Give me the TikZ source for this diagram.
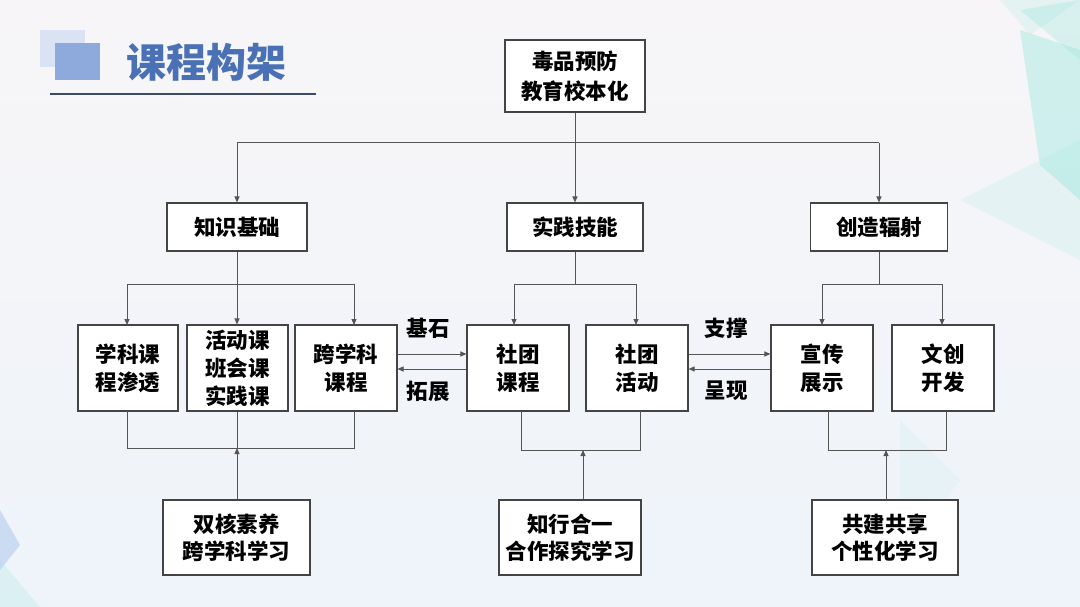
\documentclass[tikz,border=0pt]{standalone}
\usepackage{fontspec}
\setmainfont{Noto Sans CJK SC}
\usetikzlibrary{arrows.meta}
\definecolor{bgA}{HTML}{F7F5F7}
\definecolor{bgB}{HTML}{EEF4FA}
\definecolor{cyanA}{HTML}{9FE8E0}
\definecolor{blueA}{HTML}{A9C3EC}
\definecolor{titleblue}{HTML}{4A70B6}
\definecolor{sqdark}{HTML}{8EA9DB}
\definecolor{sqlight}{HTML}{D9E3F3}
\definecolor{rulec}{HTML}{3D4A68}
\definecolor{linec}{HTML}{555555}
\definecolor{boxc}{HTML}{444444}
\tikzset{
  box/.style={draw=boxc, line width=1.1pt, fill=white, align=center, inner sep=0pt,
    font=\bfseries\fontsize{21.5}{28}\selectfont},
  conn/.style={draw=linec, line width=1pt},
  arr/.style={conn, -{Triangle[length=6pt,width=5pt]}},
  lab/.style={font=\bfseries\fontsize{21.5}{24}\selectfont, inner sep=0pt},
}
\begin{document}
\begin{tikzpicture}[x=1pt,y=-1pt]
\useasboundingbox (0,0) rectangle (1080,607);
% background
\shade[top color=bgA, bottom color=bgB] (0,0) rectangle (1080,607);
\fill[cyanA, opacity=0.35] (1080,0) -- (1080,60) -- (1020,10) -- cycle;
\fill[cyanA, opacity=0.45] (1020,30) -- (1080,50) -- (1080,200) -- (1040,165) -- cycle;
\fill[cyanA, opacity=0.18] (960,200) -- (1080,140) -- (1080,260) -- cycle;
\fill[cyanA, opacity=0.2] (1000,0) -- (1080,0) -- (1030,35) -- cycle;
\fill[cyanA, opacity=0.12] (900,420) -- (960,480) -- (900,560) -- cycle;
\fill[blueA, opacity=0.5] (0,510) -- (20,545) -- (0,570) -- cycle;
\fill[cyanA, opacity=0.25] (0,560) -- (40,607) -- (0,607) -- cycle;
% title
\fill[sqlight] (40,30) rectangle (85,67);
\fill[sqdark] (55,43) rectangle (100,80);
\node[anchor=west, text=titleblue, font=\bfseries\fontsize{40}{44}\selectfont, inner sep=0pt] (title) at (126,62) {课程构架};
\draw[rulec, line width=2.2pt] (50,94) -- (316,94);
% level 1
\node[box, minimum width=140, minimum height=72, font=\bfseries\fontsize{21.5}{30}\selectfont] (top) at (575,76) {毒品预防\\教育校本化};
% level 2
\node[box, minimum width=140, minimum height=48] (k) at (237,227) {知识基础};
\node[box, minimum width=136, minimum height=48] (s) at (575,227) {实践技能};
\node[box, minimum width=137, minimum height=48] (c) at (879,227) {创造辐射};
% level 3
\node[box, minimum width=100, minimum height=86] (k1) at (128,368) {学科课\\程渗透};
\node[box, minimum width=101, minimum height=86] (k2) at (237.5,368) {活动课\\班会课\\实践课};
\node[box, minimum width=102, minimum height=86] (k3) at (346,368) {跨学科\\课程};
\node[box, minimum width=102, minimum height=86] (s1) at (518,368) {社团\\课程};
\node[box, minimum width=102, minimum height=86] (s2) at (637,368) {社团\\活动};
\node[box, minimum width=102, minimum height=86] (c1) at (822,368) {宣传\\展示};
\node[box, minimum width=102, minimum height=86] (c2) at (943,368) {文创\\开发};
% bottom
\node[box, minimum width=147, minimum height=75, font=\bfseries\fontsize{21.5}{27}\selectfont] (kb) at (236.5,537.5) {双核素养\\跨学科学习};
\node[box, minimum width=142, minimum height=75, font=\bfseries\fontsize{21.5}{27}\selectfont] (sb) at (570,537.5) {知行合一\\合作探究学习};
\node[box, minimum width=146, minimum height=75, font=\bfseries\fontsize{21.5}{27}\selectfont] (cb) at (885,537.5) {共建共享\\个性化学习};
% coordinates
\coordinate (j0) at (575,143);
\coordinate (jk) at (237,284);
\coordinate (js) at (575,284);
\coordinate (jc) at (879,284);
\coordinate (bk) at (237,448);
\coordinate (bs) at (583,450);
\coordinate (bc) at (886,450);
% top connectors
\draw[conn] (top.south) -- (j0);
\draw[conn] (j0 -| k.north) -- (j0 -| c.north);
\draw[arr] (j0 -| k.north) -- (k.north);
\draw[arr] (j0) -- (s.north);
\draw[arr] (j0 -| c.north) -- (c.north);
% knowledge branch
\draw[conn] (k.south) -- (jk);
\draw[conn] (127,284) -- (354,284);
\draw[arr] (127,284) -- (127,325);
\draw[arr] (jk) -- (k2.north -| jk);
\draw[arr] (354,284) -- (354,325);
% practice branch
\draw[conn] (s.south) -- (js);
\draw[conn] (514,284) -- (636,284);
\draw[arr] (514,284) -- (514,325);
\draw[arr] (636,284) -- (636,325);
% creative branch
\draw[conn] (c.south) -- (jc);
\draw[conn] (822,284) -- (942,284);
\draw[arr] (822,284) -- (822,325);
\draw[arr] (942,284) -- (942,325);
% bottom brackets
\draw[conn] (127,411) -- (127,448) -- (354,448) -- (354,411);
\draw[conn] (k2.south -| bk) -- (bk);
\draw[arr] (kb.north -| bk) -- (bk);
\draw[conn] (521,411) -- (521,450) -- (640,450) -- (640,411);
\draw[arr] (sb.north -| bs) -- (bs);
\draw[conn] (828,411) -- (828,450) -- (946,450) -- (946,411);
\draw[arr] (cb.north -| bc) -- (bc);
% horizontal arrows
\draw[arr] (k3.east |- 0,354) -- (s1.west |- 0,354);
\draw[arr] (s1.west |- 0,369) -- (k3.east |- 0,369);
\draw[arr] (s2.east |- 0,354) -- (c1.west |- 0,354);
\draw[arr] (c1.west |- 0,369) -- (s2.east |- 0,369);
\node[lab] (l1) at (428,328) {基石};
\node[lab] (l2) at (428,391) {拓展};
\node[lab] (l3) at (726,328) {支撑};
\node[lab] (l4) at (726,391) {呈现};
\end{tikzpicture}
\end{document}
